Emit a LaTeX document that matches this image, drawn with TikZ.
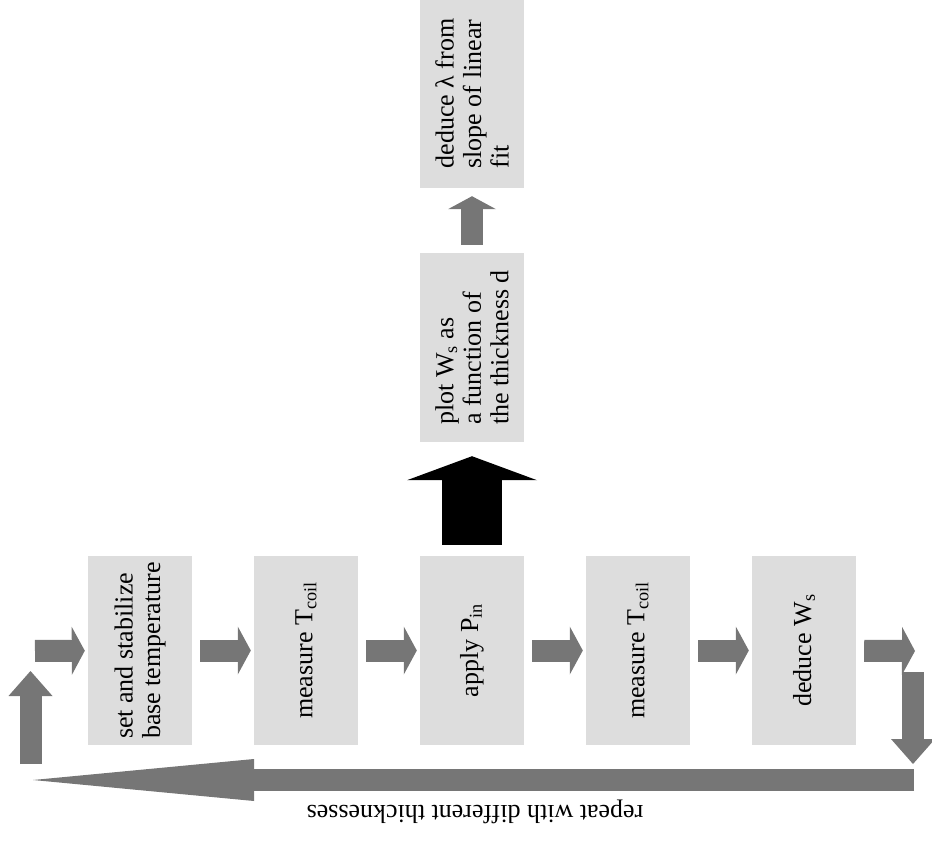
\documentclass[tikz,border=0pt]{standalone}
\usepackage{fontspec}
\setmainfont{Liberation Serif}
\usepackage{xcolor}
\usetikzlibrary{arrows.meta}

\definecolor{boxgray}{RGB}{221,221,221}
\definecolor{arrowgray}{RGB}{118,118,118}

\begin{document}
\begin{tikzpicture}[
x=1pt,y=-1pt,
stepbox/.style={
fill=boxgray,
rotate=90,
minimum width=189pt,
minimum height=104pt,
inner sep=0pt,
align=left,
font=\fontsize{26}{27.5}\selectfont
},
flow/.style={
arrowgray,
line width=22pt,
shorten <=8pt,
shorten >=3pt,
-{Triangle[length=13pt,width=48pt,line width=0pt]}
},
loopside/.style={
arrowgray,
line width=22pt,
-{Triangle[length=25pt,width=44pt,line width=0pt]}
},
back/.style={
arrowgray,
line width=22pt,
-{Triangle[length=221pt,width=42pt,line width=0pt]}
},
result/.style={
black,
line width=60pt,
shorten <=11pt,
shorten >=14pt,
-{Triangle[length=24pt,width=130pt,line width=0pt]}
}
]

\useasboundingbox (0,0) rectangle (932,841);

%---------------- Steps ----------------%

\node[stepbox] (base) at (140,650.5)
{set and stabilize\\base temperature};

\node[stepbox] (coil1) at (306,650.5)
{measure T\textsubscript{coil}};

\node[stepbox] (apply) at (472,650.5)
{apply P\textsubscript{in}};

\node[stepbox] (coil2) at (638,650.5)
{measure T\textsubscript{coil}};

\node[stepbox] (deduce) at (804,650.5)
{deduce W\textsubscript{s}};

%---------------- Result ----------------%

\node[stepbox] (plot) at (472,347.5)
{plot W\textsubscript{s} as\\a function of\\the thickness d};

\node[stepbox] (lambda) at (472,93.5)
{deduce λ from\\slope of linear\\fit};

\node[rotate=180,font=\fontsize{26}{27.5}\selectfont] (repeat) at (475,812)
{repeat with different thicknesses};

%---------------- Loop ----------------%

\coordinate (feed) at (27,651);
\coordinate (uptip) at (30.5,671);
\coordinate (upfoot) at (30.5,764);
\coordinate (outR) at (918,651);
\coordinate (downtop) at (913,672);
\coordinate (downtip) at (913,764);
\coordinate (backR) at (914,780);
\coordinate (backL) at (33,780);

%---------------- Connections ----------------%

\draw[flow] (feed)--(base);
\draw[flow] (base)--(coil1);
\draw[flow] (coil1)--(apply);
\draw[flow] (apply)--(coil2);
\draw[flow] (coil2)--(deduce);
\draw[flow] (deduce)--(outR);

\draw[loopside] (downtop)--(downtip);
\draw[back] (backR)--(backL);
\draw[loopside] (upfoot)--(uptip);

\draw[result] (apply)--(plot);
\draw[flow,shorten <=8pt,shorten >=8pt] (plot)--(lambda);

\end{tikzpicture}
\end{document}
